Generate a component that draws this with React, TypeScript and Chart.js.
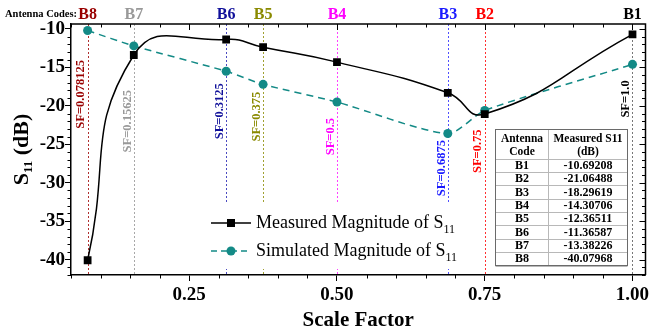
import { useEffect, useRef } from 'react';
import { Chart, registerables } from 'chart.js';

Chart.register(...registerables);

const SERIF = '"Liberation Serif", "Times New Roman", serif';

// ---- data ----
const antennaCodes = ['B8', 'B7', 'B6', 'B5', 'B4', 'B3', 'B2', 'B1'];
const scaleFactors = [0.078125, 0.15625, 0.3125, 0.375, 0.5, 0.6875, 0.75, 1.0];
const sfLabels = ['SF=0.078125', 'SF=0.15625', 'SF=0.3125', 'SF=0.375', 'SF=0.5', 'SF=0.6875', 'SF=0.75', 'SF=1.0'];
const measuredS11 = [-40.07968, -13.38226, -11.36587, -12.36511, -14.30706, -18.29619, -21.06488, -10.69208];
const simulatedS11 = [-10.2, -12.2, -15.5, -17.2, -19.5, -23.6, -20.6, -14.6];
const xTickValues = [0.25, 0.5, 0.75, 1.0];
const xTickLabels = ['0.25', '0.50', '0.75', '1.00'];
const yTickValues = [-10, -15, -20, -25, -30, -35, -40];
const yTickLabels = ['-10', '-15', '-20', '-25', '-30', '-35', '-40'];

// ---- styling ----
const codeColors = ['#990000', '#999999', '#10109a', '#8a8a00', '#ff00ff', '#1a1aff', '#ff0000', '#000000'];
const lineColors = ['#b03030', '#a8a8a8', '#4a4ac0', '#a0a030', '#ff40ff', '#5050ff', '#ff3030', '#777777'];
// vertical centre of each rotated SF label, in dB units
const sfLabelCenter = [-18.5, -22.0, -20.7, -21.4, -24.0, -28.1, -25.9, -19.1];
const measuredColor = '#000000';
const simulatedColor = '#138a86';

export default function App() {
  const ref = useRef<HTMLCanvasElement>(null);

  useEffect(() => {
    const canvas = ref.current!;

    const overlay = {
      id: 'overlay',
      beforeDatasetsDraw(chart: any) {
        const { ctx, chartArea, scales } = chart;
        const xs = scales.x;
        const { top, bottom } = chartArea;
        // dotted vertical markers
        scaleFactors.forEach((sf, i) => {
          const px = Math.round(xs.getPixelForValue(sf)) + 0.5;
          ctx.save();
          ctx.strokeStyle = lineColors[i];
          ctx.lineWidth = 1;
          ctx.setLineDash([2, 2]);
          ctx.beginPath();
          ctx.moveTo(px, top);
          ctx.lineTo(px, bottom);
          ctx.stroke();
          ctx.restore();
        });
        // legend background
        ctx.save();
        ctx.fillStyle = '#ffffff';
        ctx.fillRect(204, 203, 254, 66);
        ctx.restore();
      },
      afterDatasetsDraw(chart: any) {
        const { ctx, chartArea, scales } = chart;
        const xs = scales.x;
        const ys = scales.y;
        const { left, right, top, bottom } = chartArea;

        // SF labels (rotated)
        scaleFactors.forEach((sf, i) => {
          const px = xs.getPixelForValue(sf) - 6.5;
          const py = ys.getPixelForValue(sfLabelCenter[i]);
          ctx.save();
          ctx.translate(px, py);
          ctx.rotate(-Math.PI / 2);
          ctx.font = `bold 12.5px ${SERIF}`;
          ctx.fillStyle = codeColors[i];
          ctx.textAlign = 'center';
          ctx.textBaseline = 'middle';
          ctx.fillText(sfLabels[i], 0, 0);
          ctx.restore();
        });

        // antenna codes on top
        ctx.save();
        ctx.font = `bold 16px ${SERIF}`;
        ctx.textAlign = 'center';
        ctx.textBaseline = 'alphabetic';
        scaleFactors.forEach((sf, i) => {
          ctx.fillStyle = codeColors[i];
          ctx.fillText(antennaCodes[i], xs.getPixelForValue(sf), 18.5);
        });
        ctx.font = `bold 10.5px ${SERIF}`;
        ctx.fillStyle = '#000';
        ctx.textAlign = 'left';
        ctx.fillText('Antenna Codes:', 5, 17);
        ctx.restore();

        // legend
        const legendRows = [
          { y: 223, color: measuredColor, dash: [] as number[], style: 'rect', label: chart.data.datasets[0].label },
          { y: 251, color: simulatedColor, dash: [6, 4], style: 'circle', label: chart.data.datasets[1].label },
        ];
        legendRows.forEach((r) => {
          ctx.save();
          ctx.strokeStyle = r.color;
          ctx.fillStyle = r.color;
          ctx.lineWidth = 1.5;
          ctx.setLineDash(r.dash);
          ctx.beginPath();
          ctx.moveTo(211, r.y);
          ctx.lineTo(251, r.y);
          ctx.stroke();
          ctx.setLineDash([]);
          if (r.style === 'rect') {
            ctx.fillRect(231 - 4, r.y - 4, 8, 8);
          } else {
            ctx.beginPath();
            ctx.arc(231, r.y, 4.5, 0, Math.PI * 2);
            ctx.fill();
          }
          ctx.fillStyle = '#000';
          ctx.font = `18px ${SERIF}`;
          ctx.textBaseline = 'middle';
          ctx.textAlign = 'left';
          ctx.fillText(r.label, 256, r.y);
          const w = ctx.measureText(r.label).width;
          ctx.font = `12px ${SERIF}`;
          ctx.fillText('11', 256 + w, r.y + 7);
          ctx.restore();
        });

        // table
        const tx0 = 495.5, tx1 = 627.5, tcol = 548.5, ty0 = 129.5, thead = 158.5, ty1 = 265.5;
        const rowH = (ty1 - thead) / antennaCodes.length;
        ctx.save();
        ctx.fillStyle = '#fff';
        ctx.fillRect(tx0, ty0, tx1 - tx0, ty1 - ty0);
        ctx.strokeStyle = '#b8b8b8';
        ctx.lineWidth = 1;
        for (let r = 0; r <= antennaCodes.length; r++) {
          const yy = Math.round(thead + r * rowH) + 0.5;
          ctx.beginPath();
          ctx.moveTo(tx0, yy);
          ctx.lineTo(tx1, yy);
          ctx.stroke();
        }
        ctx.beginPath();
        ctx.moveTo(tcol, ty0);
        ctx.lineTo(tcol, ty1);
        ctx.stroke();
        ctx.strokeStyle = '#6a6a6a';
        ctx.strokeRect(tx0, ty0, tx1 - tx0, ty1 - ty0);
        ctx.fillStyle = '#000';
        ctx.textAlign = 'center';
        ctx.textBaseline = 'middle';
        ctx.font = `bold 11.5px ${SERIF}`;
        const c1 = (tx0 + tcol) / 2;
        const c2 = (tcol + tx1) / 2;
        ctx.fillText('Antenna', c1, 139.5);
        ctx.fillText('Code', c1, 152);
        ctx.fillText('Measured S11', c2, 139.5);
        ctx.fillText('(dB)', c2, 152);
        ctx.font = `bold 12px ${SERIF}`;
        const order = antennaCodes.map((c, i) => ({ c, v: measuredS11[i] })).reverse();
        order.forEach((row, r) => {
          const cy = thead + (r + 0.5) * rowH + 0.5;
          ctx.fillText(row.c, c1, cy);
          ctx.fillText(row.v.toFixed(5), c2, cy);
        });
        ctx.restore();

        // frame top/right + minor ticks
        ctx.save();
        ctx.strokeStyle = '#000';
        ctx.lineWidth = 1.5;
        ctx.beginPath();
        ctx.moveTo(left, top);
        ctx.lineTo(right, top);
        ctx.lineTo(right, bottom);
        ctx.stroke();
        ctx.lineWidth = 1;
        for (let k = 1; k <= 20; k++) {
          const v = k * 0.05;
          const px = Math.round(xs.getPixelForValue(v)) + 0.5;
          const major = k % 5 === 0;
          ctx.beginPath();
          if (!major) {
            ctx.moveTo(px, bottom);
            ctx.lineTo(px, bottom + 3.5);
          }
          ctx.moveTo(px, top);
          ctx.lineTo(px, top + (major ? 6 : 3.5));
          ctx.stroke();
        }
        for (let v = -42; v <= -10; v++) {
          const py = Math.round(ys.getPixelForValue(v)) + 0.5;
          const major = v % 5 === 0;
          ctx.beginPath();
          if (!major) {
            ctx.moveTo(left, py);
            ctx.lineTo(left - 3.5, py);
          }
          ctx.moveTo(right, py);
          ctx.lineTo(right - (major ? 6 : 3.5), py);
          ctx.stroke();
        }
        ctx.restore();

        // axis titles
        ctx.save();
        ctx.fillStyle = '#000';
        ctx.font = `bold 21px ${SERIF}`;
        ctx.textAlign = 'center';
        ctx.textBaseline = 'middle';
        ctx.fillText('Scale Factor', (left + right) / 2, 321);
        ctx.translate(22, (top + bottom) / 2);
        ctx.rotate(-Math.PI / 2);
        ctx.textAlign = 'left';
        ctx.font = `bold 22px ${SERIF}`;
        const sW = ctx.measureText('S').width;
        ctx.font = `bold 13px ${SERIF}`;
        const subW = ctx.measureText('11').width;
        ctx.font = `bold 22px ${SERIF}`;
        const restW = ctx.measureText(' (dB)').width;
        const total = sW + subW + restW;
        let cx = -total / 2;
        ctx.fillText('S', cx, 0);
        cx += sW;
        ctx.font = `bold 13px ${SERIF}`;
        ctx.fillText('11', cx, 7);
        cx += subW;
        ctx.font = `bold 22px ${SERIF}`;
        ctx.fillText(' (dB)', cx, 0);
        ctx.restore();
      },
    };

    const chart = new Chart(canvas, {
      type: 'line',
      data: {
        datasets: [
          {
            label: 'Measured Magnitude of S',
            data: scaleFactors.map((x, i) => ({ x, y: measuredS11[i] })),
            borderColor: measuredColor,
            backgroundColor: measuredColor,
            pointBorderColor: measuredColor,
            pointBackgroundColor: measuredColor,
            borderWidth: 1.5,
            pointStyle: 'rect',
            pointRadius: 5.5,
            pointBorderWidth: 0,
            tension: 0.5,
          },
          {
            label: 'Simulated Magnitude of S',
            data: scaleFactors.map((x, i) => ({ x, y: simulatedS11[i] })),
            borderColor: simulatedColor,
            backgroundColor: simulatedColor,
            pointBorderColor: simulatedColor,
            pointBackgroundColor: simulatedColor,
            borderWidth: 1.5,
            borderDash: [7, 5],
            pointStyle: 'circle',
            pointRadius: 4.5,
            pointBorderWidth: 0,
            tension: 0.25,
          },
        ],
      },
      options: {
        animation: false,
        responsive: true,
        maintainAspectRatio: false,
        elements: { line: { capBezierPoints: false } },
        layout: { padding: { top: 24, right: 3, bottom: 0, left: 0 } },
        plugins: { legend: { display: false }, tooltip: { enabled: false } },
        scales: {
          x: {
            type: 'linear',
            min: 0.05,
            max: 1.022,
            afterBuildTicks: (s: any) => {
              s.ticks = xTickValues.map((v) => ({ value: v }));
            },
            afterFit: (s: any) => {
              s.height = 58;
              s.paddingLeft = 0;
              s.paddingRight = 0;
            },
            ticks: {
              autoSkip: false,
              maxRotation: 0,
              color: '#000',
              padding: 3,
              font: { family: SERIF, size: 19, weight: 'bold' },
              callback: (_v: any, i: number) => xTickLabels[i],
            },
            grid: { drawOnChartArea: false, drawTicks: true, tickLength: 6, tickWidth: 1, tickColor: '#000' },
            border: { display: true, color: '#000', width: 1.5 },
          },
          y: {
            type: 'linear',
            min: -42,
            max: -9.35,
            afterBuildTicks: (s: any) => {
              s.ticks = yTickValues.map((v) => ({ value: v }));
            },
            afterFit: (s: any) => {
              s.width = 71;
              s.paddingTop = 0;
              s.paddingBottom = 0;
            },
            ticks: {
              autoSkip: false,
              color: '#000',
              padding: 0,
              font: { family: SERIF, size: 19, weight: 'bold' },
              callback: (_v: any, i: number) => yTickLabels[i],
            },
            grid: { drawOnChartArea: false, drawTicks: true, tickLength: 6, tickWidth: 1, tickColor: '#000' },
            border: { display: true, color: '#000', width: 1.5 },
          },
        },
      },
      plugins: [overlay],
    } as any);

    return () => chart.destroy();
  }, []);

  return (
    <div style={{ position: 'fixed', left: 0, top: 0, width: 651, height: 333, background: '#fff' }}>
      <canvas ref={ref} />
    </div>
  );
}
